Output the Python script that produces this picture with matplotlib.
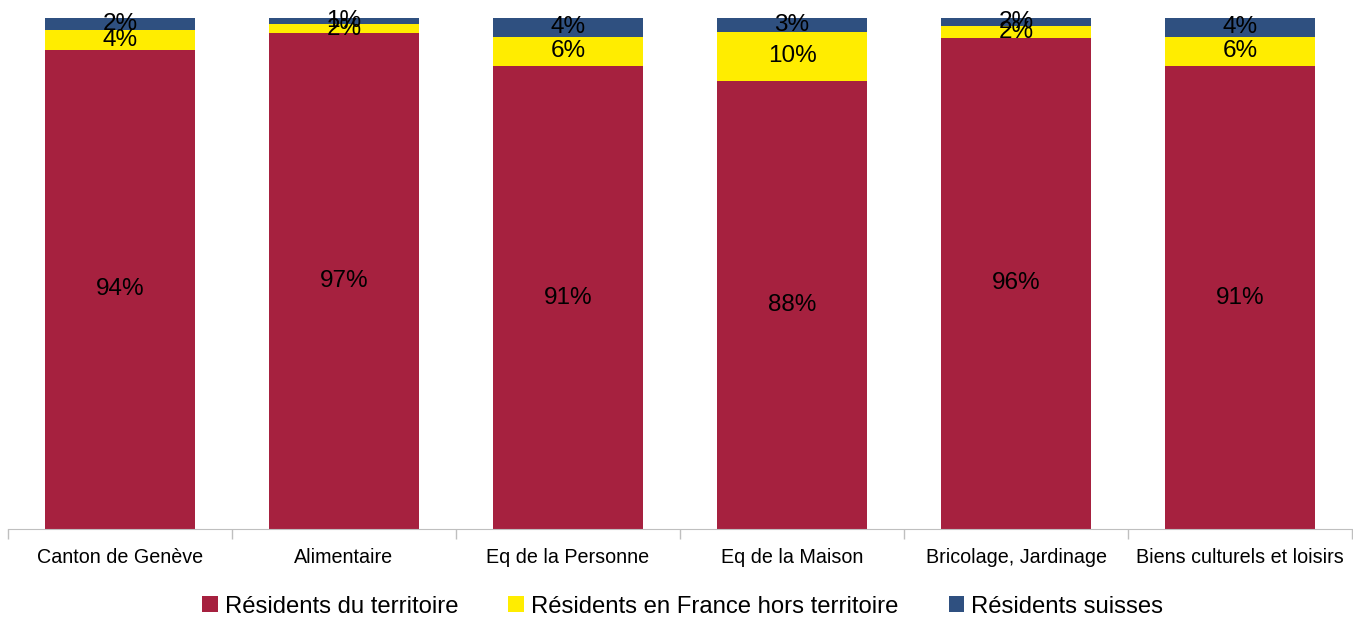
import numpy as np
from matplotlib import pyplot as plt

plt.rcParams['font.family'] = ['Liberation Sans', 'DejaVu Sans']

categories = ["Canton de Genève", "Alimentaire", "Eq de la Personne",
              "Eq de la Maison", "Bricolage, Jardinage", "Biens culturels et loisirs"]
territoire = [93.8, 97.2, 90.6, 87.7, 96.2, 90.6]
france_hors = [4.0, 1.6, 5.8, 9.7, 2.2, 5.8]
suisses = [2.2, 1.2, 3.6, 2.6, 1.6, 3.6]

series = [
    ("Résidents du territoire", territoire, "#A6213F"),
    ("Résidents en France hors territoire", france_hors, "#FFED00"),
    ("Résidents suisses", suisses, "#2F5080"),
]

fig = plt.figure(figsize=(13.53, 6.17), dpi=100)
ax = fig.add_axes([8 / 1353, 1 - 529 / 617, 1344 / 1353, (529 - 18.3) / 617])

x = np.arange(len(categories))
bottom = np.zeros(len(categories))
for name, vals, color in series:
    vals = np.array(vals)
    ax.bar(x, vals, 0.67, bottom=bottom, color=color, label=name)
    for xi, b, v in zip(x, bottom, vals):
        ax.text(xi, b + v / 2, f"{round(v):.0f}%", ha="center", va="center", fontsize=17.5)
    bottom += vals

ax.set_xlim(-0.5, len(categories) - 0.5)
ax.set_ylim(0, 100)
ax.set_yticks([])
ax.set_xticks(x)
ax.set_xticklabels(categories, fontsize=14.2)
ax.set_xticks(np.arange(-0.5, len(categories)), minor=True)
ax.tick_params(axis="x", which="major", length=0, pad=14)
ax.tick_params(axis="x", which="minor", length=7, color="#BFBFBF", width=1)
for s in ["top", "right", "left"]:
    ax.spines[s].set_visible(False)
ax.spines["bottom"].set_color("#BFBFBF")

ax.legend(loc="center", bbox_to_anchor=(0.502, -0.152), ncol=3, frameon=False,
          fontsize=17.2, handlelength=0.65, handleheight=0.65, handletextpad=0.3,
          columnspacing=2.1)

fig.savefig("out.png", dpi=100)
